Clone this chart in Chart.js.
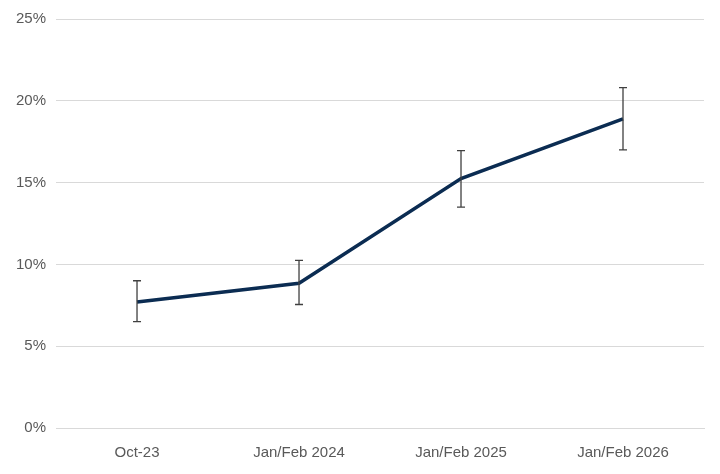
<!DOCTYPE html>
<html><head><meta charset="utf-8">
<script src="https://cdn.jsdelivr.net/npm/chart.js@4"></script>
<style>html,body{margin:0;padding:0;background:#fff}#w{width:720px;height:474px}</style>
</head><body><div id="w"><canvas id="c"></canvas></div>
<script>
const categories = ["Oct-23","Jan/Feb 2024","Jan/Feb 2025","Jan/Feb 2026"];
const values = [7.7, 8.85, 15.25, 18.9];
const errLow = [6.5, 7.55, 13.5, 17.0];
const errHigh = [9.0, 10.25, 16.95, 20.8];
const yTicks = [0,5,10,15,20,25];

const errPlugin = {
  id:'err',
  afterDatasetsDraw(chart){
    const {ctx, scales:{x,y}} = chart;
    ctx.save();
    ctx.strokeStyle='#404040'; ctx.lineWidth=1.3;
    categories.forEach((c,i)=>{
      const px = x.getPixelForValue(i);
      const t = y.getPixelForValue(errHigh[i]), b = y.getPixelForValue(errLow[i]);
      ctx.beginPath();
      ctx.moveTo(px,t); ctx.lineTo(px,b);
      ctx.moveTo(px-4,t); ctx.lineTo(px+4,t);
      ctx.moveTo(px-4,b); ctx.lineTo(px+4,b);
      ctx.stroke();
    });
    ctx.restore();
  }
};

new Chart(document.getElementById('c'),{
  type:'line',
  data:{labels:categories,datasets:[{data:values,borderColor:'#0b2c52',borderWidth:3.5,pointRadius:0,tension:0}]},
  options:{
    responsive:true,maintainAspectRatio:false,animation:false,
    layout:{padding:{left:6,right:16,top:10,bottom:4}},
    plugins:{legend:{display:false},tooltip:{enabled:false}},
    scales:{
      x:{offset:true,grid:{display:false},border:{color:'#d9d9d9'},
         ticks:{color:'#595959',font:{family:'Liberation Sans',size:15},padding:8}},
      y:{min:0,max:25,afterBuildTicks(a){a.ticks=yTicks.map(v=>({value:v}));},
         grid:{color:'#d9d9d9',drawTicks:false},border:{display:false},
         ticks:{color:'#595959',font:{family:'Liberation Sans',size:15},padding:10,callback:v=>v+'%'}}
    }
  },
  plugins:[errPlugin]
});
</script></body></html>
